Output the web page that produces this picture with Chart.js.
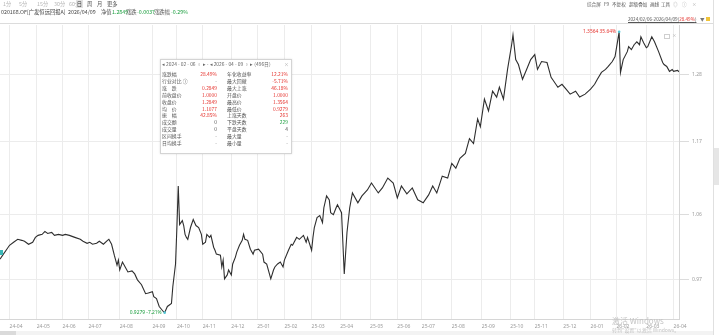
<!DOCTYPE html>
<html>
<head>
<meta charset="utf-8">
<script src="https://cdn.jsdelivr.net/npm/chart.js@4.4.1/dist/chart.umd.min.js"></script>
<style>
body { margin: 0; background: #fff; font-family: "Noto Sans CJK SC", "Noto Sans", sans-serif; }
#wrap { position: relative; width: 719px; height: 335px; overflow: hidden; }
#c { position: absolute; left: 0; top: 0; }
.t { position: absolute; white-space: nowrap; font-size: 4.9px; line-height: 6px; color: #555; }
.s { font-size: 4.6px; }
.m { font-size: 5.3px; }
.lt { color: #b5b5b5; }
.up { color: #e5322d; }
.dn { color: #1b9e3e; }
.box { position: absolute; left: 160px; top: 59px; width: 130px; height: 93px; background: #fff;
       border: 1px solid #d4d4d4; box-shadow: 0 0 2px rgba(0,0,0,0.12); }
.r { text-align: right; }
.wm { position: absolute; white-space: nowrap; color: #c4c4c4; }
</style>
</head>
<body>
<div id="wrap">
  <canvas id="c" width="719" height="335"></canvas>

  <!-- period buttons -->
  <div class="t m lt" style="left:3px;top:1px">1分</div>
  <div class="t m lt" style="left:19px;top:1px">5分</div>
  <div class="t m lt" style="left:37px;top:1px">15分</div>
  <div class="t m lt" style="left:54px;top:1px">30分</div>
  <div class="t m lt" style="left:69px;top:1px">60分</div>
  <div class="t m" style="left:76px;top:0px;width:7px;height:8px;background:#e2e2e2;text-align:center;line-height:8px;color:#333">日</div>
  <div class="t m" style="left:87px;top:1px">周</div>
  <div class="t m" style="left:97px;top:1px">月</div>
  <div class="t m" style="left:107px;top:1px">更多</div>

  <!-- fund line -->
  <div class="t m" style="left:1px;top:9px;color:#444">020168.OF[广发恒远回报A]</div>
  <div class="t m" style="left:68px;top:9px;color:#444">2026/04/09</div>
  <div class="t m" style="left:101px;top:9px">净值</div>
  <div class="t m dn" style="left:112px;top:9px">1.2849</div>
  <div class="t m" style="left:126px;top:9px">涨跌</div>
  <div class="t m dn" style="left:137px;top:9px">-0.0037</div>
  <div class="t m" style="left:154px;top:9px">涨跌幅</div>
  <div class="t m dn" style="left:171px;top:9px">-0.29%</div>

  <!-- right toolbar -->
  <div class="t s" style="left:587px;top:1px">综合屏</div>
  <div class="t s" style="left:604px;top:1px">F9</div>
  <div class="t s" style="left:612px;top:1px">不复权</div>
  <div class="t s" style="left:629px;top:1px">超级叠加</div>
  <div class="t s" style="left:650px;top:1px">画线</div>
  <div class="t s" style="left:661px;top:1px">工具</div>
  <div class="t s lt" style="left:673px;top:1px">◎</div>
  <div class="t s lt" style="left:682px;top:1px">ⓘ</div>
  <div class="t s lt" style="left:692px;top:1px">×</div>

  <div class="t s" style="left:628px;top:16px;color:#555;text-decoration:underline">2024/02/06-2026/04/09(<span class="up">28.49%</span>)</div>
  <div class="t s" style="left:700px;top:16px;color:#777">▼</div>
  <div style="position:absolute;left:706px;top:17px;width:4px;height:4px;background:#f0c43a"></div>

  <!-- frame pieces -->
  <div style="position:absolute;left:0;top:23px;width:713px;height:1px;background:#dcdcdc"></div>
  <div style="position:absolute;left:713px;top:0;width:1px;height:335px;background:#e0e0e0"></div>
  <div style="position:absolute;left:714px;top:148px;width:5px;height:37px;background:#e6e6e6"></div>
  <div style="position:absolute;left:0;top:331px;width:713px;height:4px;background:#f3f3f3"></div>
  <div style="position:absolute;left:0;top:331px;width:16px;height:4px;background:#dadada"></div>
  <div style="position:absolute;left:0;top:250px;width:3px;height:5px;background:#3bb8b8"></div>
  <div style="position:absolute;left:664px;top:34px;width:4px;height:3px;border:1px solid #cfcfcf"></div>
  <div class="t s lt" style="left:672px;top:32px">×</div>

  <!-- interval statistics -->
  <div class="box"></div>
  <div class="t" style="left:162px;top:61px;color:#666">◂ 2024 - 02 - 06 ▫ ▸ - ◂ 2026 - 04 - 09 ▫ ▸ (496日)</div>
  <div class="t lt" style="left:284px;top:61px">×</div>
  <div id="stats"></div>

  <!-- system watermark -->
  <div class="wm" style="left:612px;top:315px;font-size:8px">激活 Windows</div>
  <div class="wm" style="left:612px;top:326px;font-size:5px">转到"设置"以激活 Windows。</div>
</div>

<script>
// trading-day index within the window and the fund's unit NAV
const days = [0, 2, 5, 7, 10, 13, 16, 18, 21, 24, 26, 28, 31, 33, 35, 38, 40, 43, 46, 48,
  51, 55, 59, 61, 64, 66, 68, 71, 73, 76, 79, 80, 82, 84, 86, 87, 88, 90, 92, 94,
  97, 99, 101, 104, 107, 109, 112, 113, 115, 117, 120, 121, 123, 126, 127, 129, 130, 131, 132, 134,
  135, 136, 137, 138, 140, 142, 144, 146, 148, 149, 151, 152, 154, 155, 157, 158, 159, 162, 163, 164,
  165, 167, 168, 170, 171, 173, 174, 176, 178, 179, 180, 182, 184, 186, 187, 190, 193, 194, 196, 198,
  199, 201, 202, 204, 206, 208, 209, 212, 214, 215, 218, 220, 223, 225, 226, 229, 230, 231, 233, 235,
  237, 238, 240, 242, 243, 245, 247, 248, 251, 253, 255, 257, 259, 263, 266, 270, 273, 278, 281, 285,
  289, 292, 295, 299, 303, 307, 311, 315, 318, 321, 325, 329, 332, 335, 338, 342, 345, 348, 351, 353,
  356, 359, 362, 365, 367, 370, 373, 376, 377, 379, 381, 384, 387, 390, 393, 395, 398, 402, 405, 407,
  410, 413, 416, 419, 423, 426, 430, 434, 437, 439, 442, 445, 447, 450, 452, 455, 456, 458, 461, 462,
  464, 466, 468, 470, 471, 473, 475, 476, 479, 481, 484, 487, 488, 490, 492, 494, 495, 498, 499];

const nav = [0.9976, 1.0029, 1.0110, 1.0164, 1.0205, 1.0246, 1.0232, 1.0219, 1.0178, 1.0205,
  1.0273, 1.0301, 1.0315, 1.0356, 1.0328, 1.0342, 1.0301, 1.0315, 1.0301, 1.0315,
  1.0301, 1.0273, 1.0246, 1.0219, 1.0191, 1.0205, 1.0178, 1.0191, 1.0219, 1.0178,
  1.0232, 1.0246, 1.0178, 1.0029, 0.9896, 0.9963, 0.9830, 0.9936, 0.9870, 0.9804,
  0.9817, 0.9778, 0.9700, 0.9636, 0.9520, 0.9528, 0.9546, 0.9482, 0.9457, 0.9357,
  0.9294, 0.9279, 0.9357, 0.9394, 0.9610, 0.9910, 1.0411, 1.1012, 1.0453, 1.0509,
  1.0439, 1.0315, 1.0273, 1.0246, 1.0411, 1.0523, 1.0439, 1.0411, 1.0315, 1.0178,
  1.0205, 1.0315, 1.0273, 1.0301, 1.0137, 1.0096, 1.0043, 1.0029, 0.9870, 0.9963,
  0.9713, 0.9765, 0.9830, 0.9765, 0.9910, 1.0003, 1.0070, 1.0164, 1.0232, 1.0315,
  1.0246, 1.0232, 1.0110, 1.0043, 1.0096, 1.0110, 1.0043, 0.9936, 0.9910, 0.9778,
  0.9713, 0.9830, 0.9870, 0.9910, 0.9936, 0.9870, 0.9963, 1.0096, 1.0178, 1.0164,
  1.0273, 1.0246, 1.0301, 1.0205, 1.0273, 1.0096, 1.0273, 1.0411, 1.0551, 1.0579,
  1.0481, 1.0693, 1.0866, 1.0808, 1.0622, 1.0594, 1.0693, 1.0736, 1.0622, 0.9778,
  1.0342, 1.0693, 1.0909, 1.0765, 1.0866, 1.0953, 1.1056, 1.0909, 1.0983, 1.1130,
  1.1056, 1.0837, 1.1012, 1.0895, 1.0983, 1.0808, 1.0765, 1.0880, 1.1012, 1.0909,
  1.1160, 1.1130, 1.1355, 1.1280, 1.1431, 1.1508, 1.1741, 1.1663, 1.2058, 1.1930,
  1.2385, 1.2188, 1.2518, 1.2418, 1.2585, 1.2385, 1.2891, 1.3329, 1.3508, 1.3064,
  1.2977, 1.2720, 1.2891, 1.3064, 1.3152, 1.2891, 1.3030, 1.3012, 1.2754, 1.2686,
  1.2585, 1.2635, 1.2551, 1.2468, 1.2518, 1.2418, 1.2468, 1.2551, 1.2635, 1.2720,
  1.2840, 1.2891, 1.2943, 1.3030, 1.3117, 1.3564, 1.2840, 1.3064, 1.3205, 1.3293,
  1.3240, 1.3329, 1.3382, 1.3329, 1.3472, 1.3364, 1.3275, 1.3293, 1.3472, 1.3382,
  1.3205, 1.3012, 1.2977, 1.2943, 1.2857, 1.2891, 1.2857, 1.2874, 1.2849];

const baseNav = 1.0;

// first trading day of each month
const monthDays = [7, 27, 46, 65, 88, 112, 130, 149, 170, 189, 209, 229, 250,
  272, 292, 310, 332, 354, 375, 393, 414, 434, 453, 475, 495];
const monthLabels = ['24-04', '24-05', '24-06', '24-07', '24-08', '24-09', '24-10', '24-11', '24-12',
  '25-01', '25-02', '25-03', '25-04', '25-05', '25-06', '25-07', '25-08', '25-09', '25-10',
  '25-11', '25-12', '26-01', '26-02', '26-03', '26-04'];

const yTicks = [0.97, 1.06, 1.17, 1.28];

// interval stats panel: [label, value, class, label, value, class]
const statRows = [
  ['涨跌幅', '28.49%', 'up', '年化收益率', '12.21%', 'up'],
  ['行业对比 ⓘ', '-', '', '最大回撤', '-5.71%', 'up'],
  ['涨　跌', '0.2849', 'up', '最大上涨', '46.18%', 'up'],
  ['前收盘价', '1.0000', 'up', '开盘价', '1.0000', 'up'],
  ['收盘价', '1.2849', 'up', '最高价', '1.3564', 'up'],
  ['均　价', '1.1077', 'up', '最低价', '0.9279', 'up'],
  ['振　幅', '42.85%', 'up', '上涨天数', '263', 'up'],
  ['成交额', '0', '', '下跌天数', '229', 'dn'],
  ['成交量', '0', '', '平盘天数', '4', ''],
  ['区间换手', '-', '', '最大量', '-', ''],
  ['日均换手', '-', '', '最小量', '-', '']
];

let html = '';
statRows.forEach((r, i) => {
  const top = 71 + i * 6.9;
  html += `<div class="t" style="left:162px;top:${top}px">${r[0]}</div>`;
  html += `<div class="t r ${r[2]}" style="left:180px;width:37px;top:${top}px">${r[1]}</div>`;
  html += `<div class="t" style="left:227px;top:${top}px">${r[3]}</div>`;
  html += `<div class="t r ${r[5]}" style="left:250px;width:38px;top:${top}px">${r[4]}</div>`;
});
document.getElementById('stats').innerHTML = html;

// high / low tags on the line
const extremes = {
  id: 'extremes',
  afterDatasetsDraw(chart) {
    const { ctx, scales: { x, y } } = chart;
    const hi = nav.indexOf(Math.max(...nav));
    const lo = nav.indexOf(Math.min(...nav));
    const tag = (i, color) => {
      const px = x.getPixelForValue(days[i]);
      const py = y.getPixelForValue(nav[i]);
      const pct = ((nav[i] / baseNav - 1) * 100).toFixed(2);
      ctx.save();
      ctx.fillStyle = '#52c6d6';
      ctx.beginPath();
      ctx.arc(px, py, 1.3, 0, Math.PI * 2);
      ctx.fill();
      ctx.font = '4.9px "Noto Sans", sans-serif';
      ctx.fillStyle = color;
      ctx.textAlign = 'right';
      ctx.textBaseline = 'middle';
      ctx.fillText(nav[i].toFixed(4) + ' ' + pct + '%', px - 3, py);
      ctx.restore();
    };
    tag(hi, '#e5322d');
    tag(lo, '#1b9e3e');
  }
};

new Chart(document.getElementById('c'), {
  type: 'line',
  data: {
    datasets: [{
      data: days.map((d, i) => ({ x: d, y: nav[i] })),
      borderColor: '#2e2e2e',
      borderWidth: 1.1,
      pointRadius: 0,
      tension: 0
    }]
  },
  options: {
    responsive: false,
    animation: false,
    devicePixelRatio: 1,
    layout: { padding: { top: 25, left: 0, right: 0, bottom: 0 } },
    plugins: { legend: { display: false }, tooltip: { enabled: false } },
    scales: {
      x: {
        type: 'linear',
        min: 0,
        max: 499,
        afterBuildTicks: s => { s.ticks = monthDays.map(v => ({ value: v })); },
        afterFit: s => { s.height = 16; },
        ticks: {
          callback: (v, i) => monthLabels[i],
          align: 'start',
          autoSkip: false,
          maxRotation: 0,
          padding: 5,
          color: '#9a9a9a',
          font: { size: 5, family: '"Noto Sans", sans-serif' }
        },
        grid: { color: '#ececec', drawTicks: false },
        border: { color: '#d6d6d6' }
      },
      y: {
        type: 'logarithmic',
        position: 'right',
        min: 0.9245,
        max: 1.3689,
        afterBuildTicks: s => { s.ticks = yTicks.map(v => ({ value: v })); },
        afterFit: s => { s.width = 40; },
        ticks: {
          callback: v => v.toFixed(2),
          padding: 3,
          color: '#9a9a9a',
          font: { size: 5, family: '"Noto Sans", sans-serif' }
        },
        grid: { color: '#ececec', tickLength: 10, tickColor: '#dcdcdc' },
        border: { color: '#d6d6d6' }
      }
    }
  },
  plugins: [extremes]
});
</script>
</body>
</html>
